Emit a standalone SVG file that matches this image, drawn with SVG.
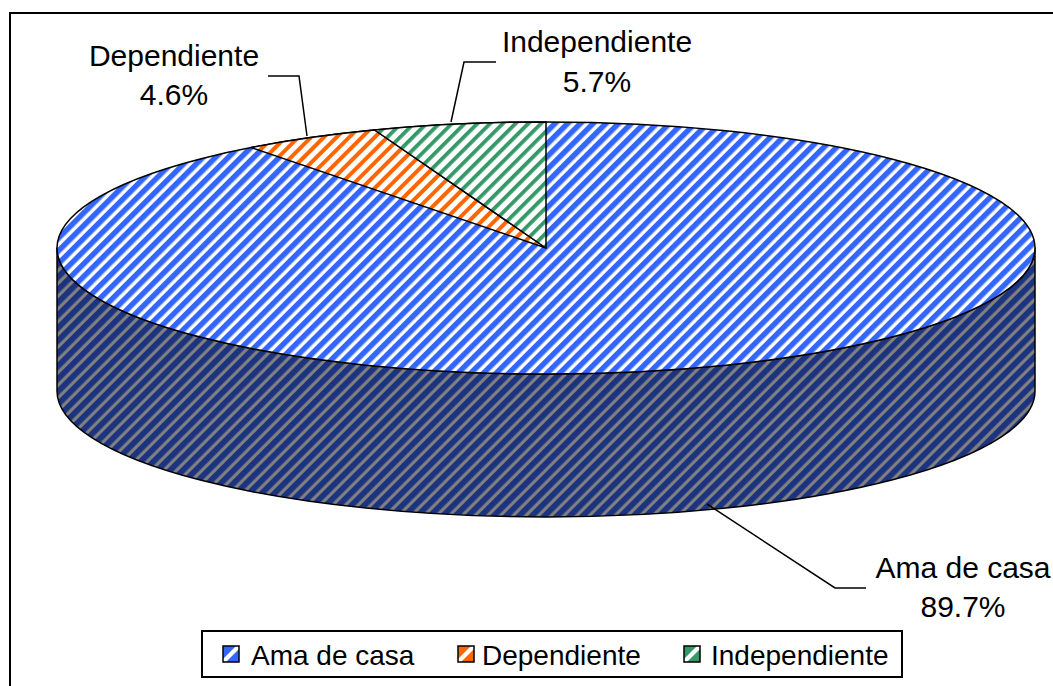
<svg xmlns="http://www.w3.org/2000/svg" width="1053" height="686" viewBox="0 0 1053 686">
<style>
text{font-family:"Liberation Sans",Arial,sans-serif;fill:#000}
.lbl{font-size:30px;text-anchor:middle}
.leg{font-size:28px}
.edge{stroke:#000;stroke-width:1.5;stroke-linejoin:round}
.lead{fill:none;stroke:#000;stroke-width:1.5}
.sw{stroke:#000;stroke-width:1.5}
</style>
<defs>
<pattern id="pBlue" patternUnits="userSpaceOnUse" width="9" height="10" patternTransform="rotate(45)">
<rect width="9" height="10" fill="#fff"/><rect width="5.5" height="10" fill="#3366FF"/>
</pattern>
<pattern id="pOrange" patternUnits="userSpaceOnUse" width="9" height="10" patternTransform="rotate(45)">
<rect width="9" height="10" fill="#fff"/><rect width="4" height="10" fill="#FF6600"/>
</pattern>
<pattern id="pGreen" patternUnits="userSpaceOnUse" width="9" height="10" patternTransform="rotate(45)">
<rect width="9" height="10" fill="#fff"/><rect width="3.8" height="10" fill="#339966"/>
</pattern>
<pattern id="pSide" patternUnits="userSpaceOnUse" width="9" height="10" patternTransform="rotate(45)">
<rect width="9" height="10" fill="#808080"/><rect width="5.8" height="10" fill="#1C3380"/>
</pattern>
</defs>
<rect x="10" y="13" width="1100" height="720" fill="#fff" stroke="#000" stroke-width="2"/>
<g id="pie">
<g id="side">
<path class="edge" fill="url(#pSide)" d="M57,248 L57,391 A489,126 0 0 0 1035,391 L1035,248 A489,126 0 0 1 57,248 Z"/>
</g>
<g id="slice-ama">
<ellipse class="edge" cx="546" cy="248" rx="489" ry="126" fill="url(#pBlue)"/>
</g>
<g id="slice-dependiente">
<path class="edge" fill="url(#pOrange)" d="M546,248 L251.2,147.5 A489,126 0 0 1 374.6,130 Z"/>
</g>
<g id="slice-independiente">
<path class="edge" fill="url(#pGreen)" d="M546,248 L374.6,130 A489,126 0 0 1 546,122 Z"/>
</g>
</g>
<g id="connectors">
<polyline class="lead" points="268,76 299,76 307,136"/>
<polyline class="lead" points="496,62 464,62 451,122"/>
<polyline class="lead" points="707,504 835,588 866,588"/>
</g>
<g id="label-dependiente">
<text class="lbl" x="174" y="66">Dependiente</text>
<text class="lbl" x="174" y="105">4.6%</text>
</g>
<g id="label-independiente">
<text class="lbl" x="597" y="52">Independiente</text>
<text class="lbl" x="597" y="92">5.7%</text>
</g>
<g id="label-ama">
<text class="lbl" x="963" y="578">Ama de casa</text>
<text class="lbl" x="963" y="617">89.7%</text>
</g>
<g id="legend">
<rect x="202" y="631" width="700" height="46" fill="#fff" stroke="#000" stroke-width="2"/>
<g id="legend-ama">
<rect x="223" y="646" width="16" height="16" fill="#3366FF"/>
<polygon points="223,659 236,646 239,646 239,649 226,662 223,662" fill="#fff"/>
<rect class="sw" x="223" y="646" width="16" height="16" fill="none"/>
<text class="leg" x="251" y="665">Ama de casa</text>
</g>
<g id="legend-dependiente">
<rect x="458" y="646" width="16" height="16" fill="#FF6600"/>
<polygon points="458,659 471,646 474,646 474,649 461,662 458,662" fill="#fff"/>
<rect class="sw" x="458" y="646" width="16" height="16" fill="none"/>
<text class="leg" x="482" y="665">Dependiente</text>
</g>
<g id="legend-independiente">
<rect x="684" y="646" width="16" height="16" fill="#339966"/>
<polygon points="684,659 697,646 700,646 700,649 687,662 684,662" fill="#fff"/>
<rect class="sw" x="684" y="646" width="16" height="16" fill="none"/>
<text class="leg" x="711" y="665">Independiente</text>
</g>
</g>
</svg>
